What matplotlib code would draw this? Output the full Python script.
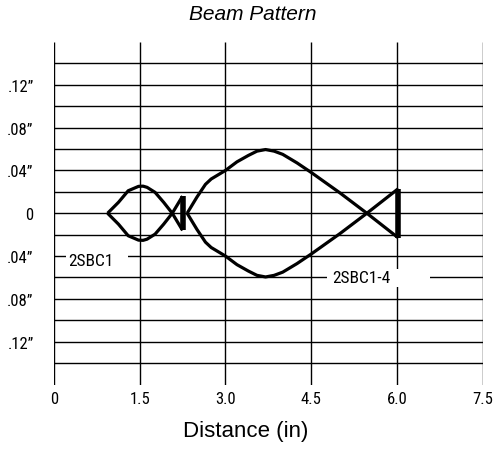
import matplotlib

matplotlib.use("Agg")

import matplotlib.pyplot as plt
import numpy as np
from matplotlib.patches import Rectangle

# small lobe (upper half; lower half is the mirror image)
SMALL_X = [0.94, 1.13, 1.30, 1.48, 1.56, 1.63, 1.77, 1.92, 2.07, 2.25]
SMALL_Y = [0.0, 0.0102, 0.021, 0.0251, 0.0253, 0.0242, 0.0195, 0.0102, 0.0, -0.016]

# large lobe (upper half)
LARGE_X = [2.33, 2.50, 2.65, 2.75, 3.00, 3.20, 3.40, 3.55, 3.70, 3.85, 4.00,
           4.25, 4.50, 5.00, 5.47, 6.02]
LARGE_Y = [0.0, 0.015, 0.027, 0.032, 0.040, 0.048, 0.054, 0.058, 0.0595, 0.058,
           0.055, 0.047, 0.038, 0.019, 0.0, -0.023]

X_TICKS = [0, 1.5, 3.0, 4.5, 6.0, 7.5]
X_TICK_LABELS = ["0", "1.5", "3.0", "4.5", "6.0", "7.5"]
Y_TICKS = [0.12, 0.08, 0.04, 0.0, -0.04, -0.08, -0.12]
Y_TICK_LABELS = [".12\u201d", ".08\u201d", ".04\u201d", "0", ".04\u201d", ".08\u201d", ".12\u201d"]

NARROW = ["Roboto Condensed", "Liberation Sans", "DejaVu Sans"]
plt.rcParams["font.family"] = ["Liberation Sans", "DejaVu Sans"]

fig = plt.figure(figsize=(4.98, 4.52), dpi=100)
ax = fig.add_axes([0.108, 0.147, 0.862, 0.758])
ax.set_xlim(0, 7.5)
ax.set_ylim(-0.16, 0.16)
for s in ax.spines.values():
    s.set_visible(False)

# grid
ax.vlines(X_TICKS, -0.16, 0.16, color="black", lw=1.0, zorder=1)
ax.hlines(np.round(np.arange(-0.14, 0.141, 0.02), 3), 0, 7.5, color="black", lw=1.0, zorder=1)

# lobes
sx, sy = np.array(SMALL_X), np.array(SMALL_Y)
lx, ly = np.array(LARGE_X), np.array(LARGE_Y)
for xs, ys in ((sx, sy), (lx, ly)):
    ax.plot(xs, ys, color="black", lw=2.3, solid_capstyle="butt", zorder=5)
    ax.plot(xs, -ys, color="black", lw=2.3, solid_capstyle="butt", zorder=5)
    ax.plot([xs[-1], xs[-1]], [ys[-1], -ys[-1]], color="black", lw=4.0,
            solid_capstyle="butt", zorder=5)

# labels with white boxes
ax.add_patch(Rectangle((0.21, -0.050), 1.09, 0.013, facecolor="white", edgecolor="none", zorder=3))
ax.text(0.25, -0.0445, "2SBC1", family=NARROW, fontsize=12.5, va="center", ha="left", zorder=4)
ax.add_patch(Rectangle((4.77, -0.0685), 1.81, 0.0167, facecolor="white", edgecolor="none", zorder=3))
ax.text(4.86, -0.060, "2SBC1-4", family=NARROW, fontsize=12.5, va="center", ha="left", zorder=4)

ax.set_xticks(X_TICKS, X_TICK_LABELS)
ax.set_yticks(Y_TICKS, Y_TICK_LABELS)
ax.tick_params(axis="x", length=0, pad=4.5, labelsize=12, labelfontfamily=NARROW)
ax.tick_params(axis="y", length=0, pad=14.5, labelsize=12, labelfontfamily=NARROW)

fig.text(0.508, 1 - 15 / 452, "Beam Pattern", fontsize=15, style="italic",
         ha="center", va="center")
fig.text(0.494, 1 - 432 / 452, "Distance (in)", fontsize=16, ha="center", va="center")

fig.savefig("out.png", dpi=100)
